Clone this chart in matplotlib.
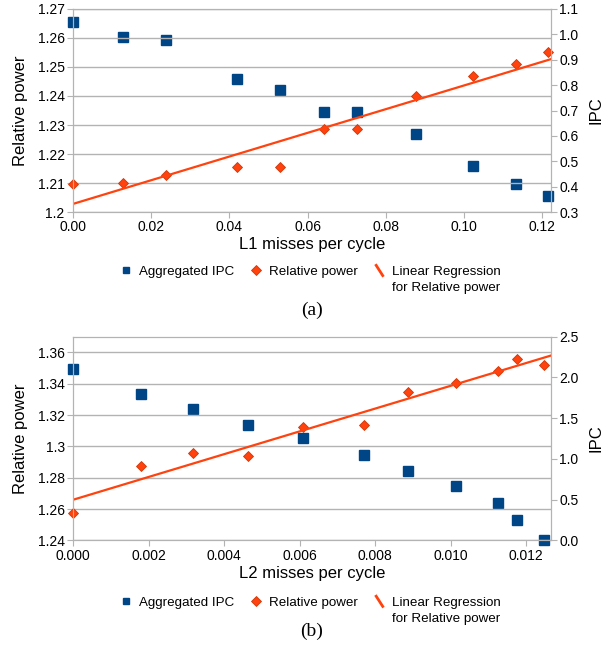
import matplotlib
matplotlib.use('Agg')
import matplotlib.pyplot as plt
import numpy as np
from matplotlib.legend_handler import HandlerBase
from matplotlib.lines import Line2D

plt.rcParams['font.family'] = ['Liberation Sans', 'DejaVu Sans']

# (a) L1 misses
l1_x = [0.0, 0.0129, 0.0238, 0.0419, 0.0530, 0.0641, 0.0726, 0.0878, 0.1024, 0.1134, 0.1215]
l1_ipc = [1.050, 0.988, 0.979, 0.825, 0.781, 0.695, 0.695, 0.606, 0.483, 0.410, 0.362]
l1_power = [1.2095, 1.2101, 1.2126, 1.2156, 1.2156, 1.2287, 1.2287, 1.2399, 1.2469, 1.2509, 1.2553]

# (b) L2 misses
l2_x = [0.0, 0.00179, 0.00319, 0.00464, 0.00608, 0.0077, 0.00886, 0.01015, 0.01126, 0.01176, 0.01247]
l2_ipc = [2.105, 1.797, 1.616, 1.418, 1.254, 1.048, 0.851, 0.670, 0.465, 0.247, 0.010]
l2_power = [1.2576, 1.2872, 1.2961, 1.2938, 1.3127, 1.3138, 1.3349, 1.3403, 1.3481, 1.3555, 1.3519]

l1_xticks = [0.00, 0.02, 0.04, 0.06, 0.08, 0.10, 0.12]
l1_xlabels = ['0.00', '0.02', '0.04', '0.06', '0.08', '0.10', '0.12']
l1_yticks = [1.20, 1.21, 1.22, 1.23, 1.24, 1.25, 1.26, 1.27]
l1_ylabels = ['1.2', '1.21', '1.22', '1.23', '1.24', '1.25', '1.26', '1.27']
l1_rticks = [0.3, 0.4, 0.5, 0.6, 0.7, 0.8, 0.9, 1.0, 1.1]

l2_xticks = [0.000, 0.002, 0.004, 0.006, 0.008, 0.010, 0.012]
l2_xlabels = ['0.000', '0.002', '0.004', '0.006', '0.008', '0.010', '0.012']
l2_yticks = [1.24, 1.26, 1.28, 1.30, 1.32, 1.34, 1.36]
l2_ylabels = ['1.24', '1.26', '1.28', '1.3', '1.32', '1.34', '1.36']
l2_rticks = [0.0, 0.5, 1.0, 1.5, 2.0, 2.5]

BLUE = '#004586'
ORANGE = '#ff420e'
GREY = '#b3b3b3'


class DiagonalLine(HandlerBase):
    def create_artists(self, legend, orig_handle, xdescent, ydescent,
                       width, height, fontsize, trans):
        ln = Line2D([-xdescent + 0.15 * width, -xdescent + 0.85 * width],
                    [-ydescent + height, -ydescent],
                    color=orig_handle.get_color(), lw=2.0,
                    transform=trans)
        return [ln]


legends = []


def panel(rect, x, ipc, power, xlim, ylim, rlim, xticks, xlabels, yticks, ylabels,
          rticks, xlabel, leg_y, caption, cap_y):
    ax = fig.add_axes(rect)
    ax2 = ax.twinx()
    ax.set_zorder(ax2.get_zorder() + 1)
    ax.patch.set_visible(False)

    ax.set_xlim(xlim)
    ax.set_ylim(ylim)
    ax2.set_ylim(rlim)
    ax.set_xticks(xticks, xlabels)
    ax.set_yticks(yticks, ylabels)
    ax2.set_yticks(rticks, ['%.1f' % v for v in rticks])
    ax.grid(axis='y', color=GREY, lw=1)
    ax.set_axisbelow(True)
    for a in (ax, ax2):
        for s in a.spines.values():
            s.set_color(GREY)
        a.tick_params(color=GREY, length=4, labelsize=10, pad=2)

    sq, = ax2.plot(x, ipc, 's', color=BLUE, ms=6.5, mec=BLUE, clip_on=False,
                   label='Aggregated IPC')
    dm, = ax.plot(x, power, 'D', color=ORANGE, ms=5.5, mec='#d03808', mew=0.6,
                  clip_on=False, label='Relative power')
    k, b = np.polyfit(x, power, 1)
    xs = np.array(xlim)
    ln, = ax.plot(xs, k * xs + b, color=ORANGE, lw=1.6)

    ax.set_xlabel(xlabel, fontsize=12, labelpad=2)
    ax.set_ylabel('Relative power', fontsize=12, labelpad=7)
    ax2.set_ylabel('IPC', fontsize=12, labelpad=7)

    leg = ax.legend([sq, dm, ln], ['Aggregated IPC', 'Relative power', 'Linear Regression'],
                    handler_map={ln: DiagonalLine()}, loc='upper center',
                    bbox_to_anchor=(0.51, leg_y), bbox_transform=fig.transFigure,
                    ncol=3, frameon=False, fontsize=9.6, handlelength=0.7,
                    handleheight=0.8, handletextpad=0.6, columnspacing=1.3,
                    borderpad=0)
    for h in leg.legend_handles[:2]:
        h.set_markersize(5)
    legends.append(leg)
    fig.text(0.511, cap_y, caption, ha='center', va='center',
             family=['Liberation Serif', 'DejaVu Serif'], fontsize=14)


fig = plt.figure(figsize=(6.1, 6.5), dpi=100)

panel([0.1197, 0.6738, 0.7836, 0.3124], l1_x, l1_ipc, l1_power,
      (0, 0.1223), (1.20, 1.27), (0.3, 1.1), l1_xticks, l1_xlabels, l1_yticks, l1_ylabels,
      l1_rticks, 'L1 misses per cycle', 0.602, '(a)', 0.523)
panel([0.1197, 0.1685, 0.7836, 0.3135], l2_x, l2_ipc, l2_power,
      (0, 0.01266), (1.24, 1.37), (0.0, 2.5), l2_xticks, l2_xlabels, l2_yticks, l2_ylabels,
      l2_rticks, 'L2 misses per cycle', 0.093, '(b)', 0.028)

# second line of the regression label, placed under the first one
fig.canvas.draw()
W, H = fig.bbox.width, fig.bbox.height
for leg in legends:
    bb = leg.get_texts()[2].get_window_extent()
    fig.text(bb.x0 / W, ((bb.y0 + bb.y1) / 2 - 16) / H, 'for Relative power',
             ha='left', va='center', fontsize=9.6)

fig.savefig('out.png', dpi=100)
